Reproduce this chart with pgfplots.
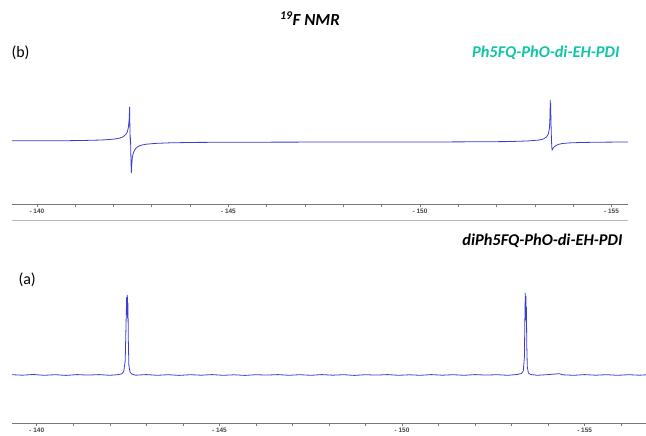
\documentclass[border=0pt]{standalone}
\usepackage{fontspec}
\setmainfont{Carlito}
\newfontfamily\tickfont{Liberation Sans}
\usepackage{pgfplots}
\pgfplotsset{compat=1.18}

\definecolor{spec}{RGB}{60,60,210}
\definecolor{tealname}{RGB}{16,196,166}
\definecolor{axgray}{RGB}{120,120,120}
\definecolor{labgray}{RGB}{70,70,70}

% top spectrum (b): shift / ppm, intensity
\pgfplotstableread{
ppm I
-139.35 0.3
-139.8 0.2
-140.3 0.2
-140.8 0.3
-141.3 0.6
-141.7 1.0
-142.0 1.8
-142.15 2.8
-142.25 4.2
-142.32 6.5
-142.36 9
-142.39 14
-142.41 22
-142.42 34
-142.425 22
-142.43 6
-142.435 2
-142.44 3
-142.445 1
-142.455 -18
-142.465 -32
-142.475 -24
-142.49 -17
-142.51 -13
-142.54 -10
-142.58 -7.5
-142.64 -5.5
-142.72 -4.2
-142.85 -3.2
-143.1 -2.4
-143.5 -1.8
-144.2 -1.4
-145.5 -1.2
-147 -1.1
-149 -1.0
-151 -0.9
-152.3 -0.6
-152.8 0
-153.1 0.9
-153.22 2
-153.3 4
-153.35 7
-153.38 13
-153.395 25
-153.40 41
-153.405 30
-153.41 38
-153.42 18
-153.43 4
-153.44 -6
-153.45 -9
-153.47 -7.5
-153.50 -6
-153.55 -4.5
-153.62 -3.3
-153.72 -2.5
-153.9 -1.9
-154.2 -1.5
-154.7 -1.2
-155.43 -1.0
}\specb

% bottom spectrum (a)
\pgfplotstableread{
ppm I
-139.32 0.3
-139.6 -0.2
-139.9 0.5
-140.2 -0.3
-140.5 0.3
-140.8 -0.4
-141.1 0.4
-141.4 -0.1
-141.7 0.4
-142.0 -0.3
-142.2 0.3
-142.33 1.2
-142.38 3.5
-142.42 14
-142.445 55
-142.46 78
-142.47 60
-142.478 80
-142.486 57
-142.495 72
-142.505 35
-142.52 10
-142.55 3
-142.6 1
-142.7 -0.2
-143.0 0.4
-143.3 -0.3
-143.6 0.3
-143.9 -0.4
-144.2 0.3
-144.5 -0.2
-144.8 0.4
-145.1 -0.3
-145.4 0.2
-145.7 -0.4
-146.0 0.3
-146.3 -0.1
-146.6 0.4
-146.9 -0.3
-147.2 0.3
-147.5 -0.3
-147.8 0.4
-148.1 -0.2
-148.4 0.3
-148.7 -0.4
-149.0 0.3
-149.3 -0.1
-149.6 0.4
-149.9 -0.3
-150.2 0.2
-150.5 -0.3
-150.8 0.4
-151.1 -0.2
-151.4 0.3
-151.7 -0.3
-152.0 0.4
-152.3 -0.1
-152.6 0.3
-152.9 -0.3
-153.15 0.5
-153.27 1.5
-153.32 4
-153.35 18
-153.365 60
-153.375 82
-153.383 62
-153.39 79
-153.398 55
-153.405 68
-153.415 30
-153.43 8
-153.46 2
-153.52 0.5
-153.7 -0.3
-154.0 0.4
-154.3 1.3
-154.4 0.2
-154.7 -0.3
-155.0 0.4
-155.3 -0.2
-155.6 0.3
-155.9 -0.3
-156.2 0.3
-156.5 -0.2
-156.68 0.2
}\speca

\pgfplotsset{
  nmr/.style={
    scale only axis,
    anchor=south west,
    x dir=reverse,
    axis x line*=bottom,
    axis y line=none,
    axis line style={-, axgray, line width=0.9pt},
    tick align=outside,
    xtick pos=bottom,
    major tick length=3.5bp,
    minor tick length=3bp,
    every tick/.style={axgray, line width=0.7pt},
    xtick={-140,-145,-150,-155},
    xticklabels={- 140,- 145,- 150,- 155},
    minor xtick={-141,-142,-143,-144,-146,-147,-148,-149,-151,-152,-153,-154,-156},
    xticklabel style={font=\tickfont\bfseries\fontsize{6.5}{7}\selectfont, text=labgray, inner sep=1.5pt},
    clip=false,
  },
}

\begin{document}
\begin{tikzpicture}[x=1bp,y=1bp]
\useasboundingbox (0,0) rectangle (646,436);

% (b) top panel
\begin{axis}[nmr, at={(12bp,232bp)}, width=616bp, height=109bp,
  xmin=-155.43, xmax=-139.35, ymin=-63, ymax=46]
\addplot[spec, line width=0.8pt] table[x=ppm, y=I] {\specb};
\end{axis}
\draw[gray!55, line width=0.6pt] (12,216) -- (628,216);

% (a) bottom panel
\begin{axis}[nmr, at={(12bp,13bp)}, width=634bp, height=133bp,
  xmin=-156.68, xmax=-139.32, ymin=-48, ymax=85]
\addplot[spec, line width=0.8pt] table[x=ppm, y=I] {\speca};
\end{axis}

\node[font=\bfseries\itshape\fontsize{17}{20}\selectfont] at (310,417) {\textsuperscript{19}F NMR};
\node[font=\fontsize{16}{18}\selectfont, anchor=west] at (8,383) {(b)};
\node[font=\bfseries\itshape\fontsize{16.5}{19}\selectfont, text=tealname, anchor=east] at (623,383) {Ph5FQ-PhO-di-EH-PDI};
\node[font=\bfseries\itshape\fontsize{16.5}{19}\selectfont, anchor=east] at (626,195) {diPh5FQ-PhO-di-EH-PDI};
\node[font=\fontsize{16}{18}\selectfont, anchor=west] at (15,156) {(a)};
\end{tikzpicture}
\end{document}
